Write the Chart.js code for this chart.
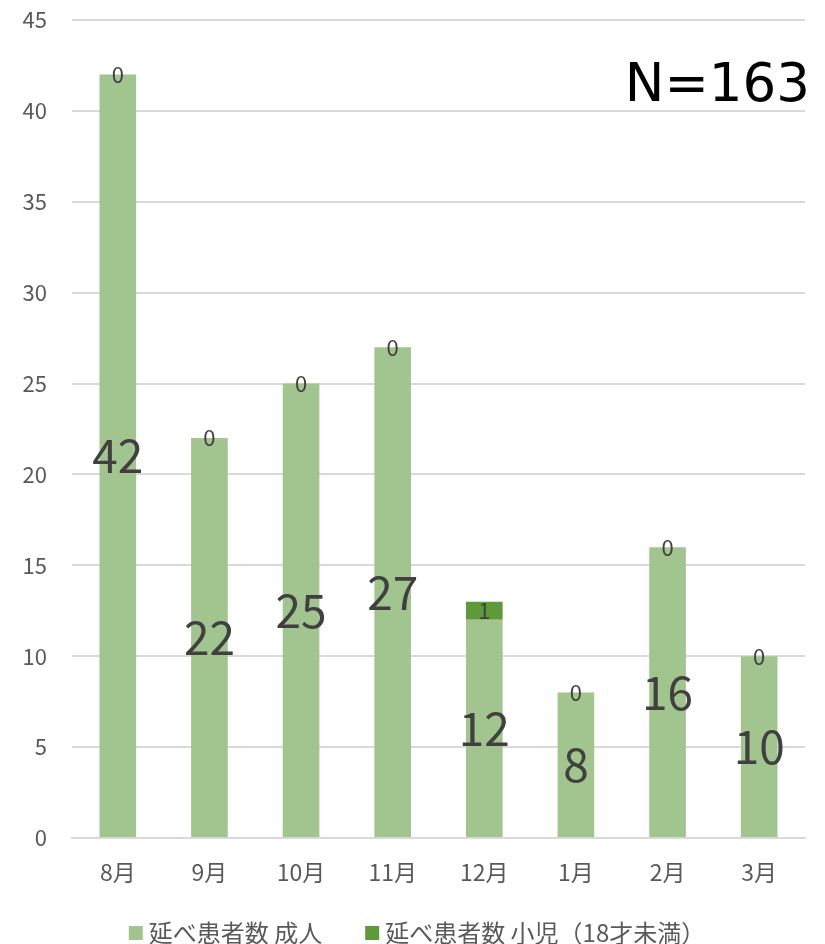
<!DOCTYPE html>
<html>
<head>
<meta charset="utf-8">
<script src="https://cdn.jsdelivr.net/npm/chart.js@4.4.6/dist/chart.umd.min.js"></script>
<style>
  html, body { margin: 0; padding: 0; background: #fff; }
  #wrap { width: 825px; height: 944px; }
</style>
</head>
<body>
<div id="wrap"><canvas id="chart" width="825" height="944"></canvas></div>
<script>
const months = ["8月", "9月", "10月", "11月", "12月", "1月", "2月", "3月"]
const adults = [42, 22, 25, 27, 12, 8, 16, 10]
const children = [0, 0, 0, 0, 1, 0, 0, 0]
const totalLabel = "N=163"

const FONT = "'Noto Sans CJK JP', 'Noto Sans', sans-serif"

// Data labels drawn at the centre of each bar segment
const barLabels = {
  id: "barLabels",
  afterDatasetsDraw(chart) {
    const ctx = chart.ctx
    ctx.save()
    ctx.textAlign = "center"
    ctx.textBaseline = "middle"
    chart.data.datasets.forEach((ds, di) => {
      const meta = chart.getDatasetMeta(di)
      const size = di === 0 ? 46 : 22
      ctx.font = `${size}px ${FONT}`
      ctx.fillStyle = "#404040"
      meta.data.forEach((bar, i) => {
        const { x, y, base } = bar.getProps(["x", "y", "base"], true)
        ctx.fillText(String(ds.data[i]), x, (y + base) / 2)
      })
    })
    ctx.restore()
  }
}

// "N=163" in the upper right corner
const totalText = {
  id: "totalText",
  afterDraw(chart) {
    const ctx = chart.ctx
    ctx.save()
    ctx.font = "53px 'DejaVu Sans', sans-serif"
    ctx.fillStyle = "#000"
    ctx.textAlign = "right"
    ctx.textBaseline = "middle"
    ctx.fillText(totalLabel, 810, 87)
    ctx.restore()
  }
}

// legend row along the bottom, centred under the chart
const bottomLegend = {
  id: "bottomLegend",
  afterDraw(chart) {
    const ctx = chart.ctx
    const box = 14, gap = 6, itemGap = 43, cy = 933
    ctx.save()
    ctx.font = `24px ${FONT}`
    ctx.textBaseline = "middle"
    const items = chart.data.datasets.map((ds) => ({
      text: ds.label, color: ds.backgroundColor, w: ctx.measureText(ds.label).width
    }))
    const total = items.reduce((s, it) => s + box + gap + it.w, 0) + itemGap * (items.length - 1)
    let x = 417 - total / 2
    items.forEach((it) => {
      ctx.fillStyle = it.color
      ctx.fillRect(x, cy - box / 2, box, box)
      ctx.fillStyle = "#595959"
      ctx.fillText(it.text, x + box + gap, cy)
      x += box + gap + it.w + itemGap
    })
    ctx.restore()
  }
}

new Chart(document.getElementById("chart"), {
  type: "bar",
  data: {
    labels: months,
    datasets: [
      { label: "延べ患者数 成人", data: adults, backgroundColor: "#A2C48F" },
      { label: "延べ患者数 小児（18才未満）", data: children, backgroundColor: "#5F9A3A" }
    ]
  },
  options: {
    responsive: false,
    animation: false,
    layout: { padding: { top: 0, right: 20, left: 0, bottom: 50 } },
    datasets: { bar: { barPercentage: 0.4, categoryPercentage: 1.0 } },
    scales: {
      x: {
        stacked: true,
        afterFit: (s) => { s.height = 56 },
        grid: { display: false, drawTicks: false },
        border: { color: "#D9D9D9", width: 2 },
        ticks: { color: "#595959", font: { family: FONT, size: 23 }, padding: 20 }
      },
      y: {
        stacked: true,
        min: 0,
        max: 45,
        afterFit: (s) => { s.width = 72; s.paddingTop = 20; s.paddingBottom = 0 },
        grid: { color: "#D9D9D9", lineWidth: 2, drawTicks: false },
        border: { display: false },
        ticks: { stepSize: 5, color: "#595959", font: { family: FONT, size: 22 }, padding: 25 }
      }
    },
    plugins: {
      tooltip: { enabled: false },
      legend: { display: false }
    }
  },
  plugins: [barLabels, totalText, bottomLegend]
})
</script>
</body>
</html>
